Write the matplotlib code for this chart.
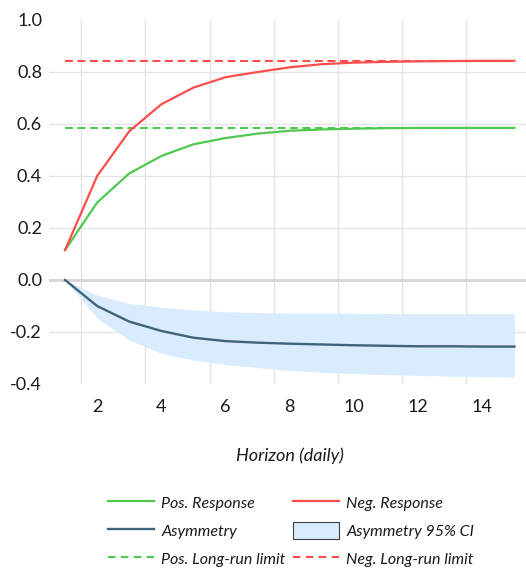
import numpy as np
import matplotlib
matplotlib.use("Agg")
import matplotlib.pyplot as plt
from matplotlib.lines import Line2D
from matplotlib.patches import Patch

# horizon 1..15 (daily)
horizon = np.arange(1, 16)
pos_resp = [0.115, 0.298, 0.410, 0.477, 0.522, 0.546, 0.563, 0.574, 0.579, 0.582,
            0.584, 0.585, 0.585, 0.585, 0.585]
neg_resp = [0.115, 0.400, 0.572, 0.676, 0.740, 0.780, 0.800, 0.818, 0.830, 0.836,
            0.839, 0.841, 0.842, 0.843, 0.843]
asym = [0.0, -0.100, -0.160, -0.196, -0.222, -0.235, -0.241, -0.245, -0.248, -0.251,
        -0.253, -0.255, -0.255, -0.256, -0.256]
ci_upper = [0.0, -0.058, -0.090, -0.105, -0.115, -0.122, -0.125, -0.127, -0.128, -0.128,
            -0.129, -0.129, -0.129, -0.129, -0.129]
ci_lower = [0.0, -0.147, -0.231, -0.282, -0.308, -0.325, -0.337, -0.348, -0.355, -0.360,
            -0.364, -0.367, -0.370, -0.372, -0.373]
pos_limit = 0.585
neg_limit = 0.842

yticks = [1.0, 0.8, 0.6, 0.4, 0.2, 0.0, -0.2, -0.4]
xticks = [2, 4, 6, 8, 10, 12, 14]

GREEN, RED, ASYM, CI = "#4fc94f", "#ff4d4d", "#3f6479", "#d9ecfd"
INK, GRID, ZERO = "#1a1a1a", "#e4e4e4", "#d6d6d6"

plt.rcParams["font.family"] = ["Lato", "DejaVu Sans"]

W, H = 526, 571
fig = plt.figure(figsize=(W / 100, H / 100), dpi=100)
ax = fig.add_axes([49 / W, (H - 384) / H, 481.5 / W, 364 / H])

ax.set_xlim(0.5, 15.5)
ax.set_ylim(-0.4, 1.0)

# gridlines (category boundaries for x, interior values for y)
for gx in np.array(xticks) - 0.5:
    ax.axvline(gx, color=GRID, lw=1.0, zorder=0)
for gy in yticks[1:-1]:
    ax.axhline(gy, color=ZERO if gy == 0 else GRID, lw=2.0 if gy == 0 else 1.0, zorder=0.5)

ax.fill_between(horizon, ci_lower, ci_upper, color=CI, lw=0, zorder=1)
ax.plot(horizon, asym, color=ASYM, lw=1.7, zorder=3)
ax.plot(horizon, pos_resp, color=GREEN, lw=1.6, zorder=3)
ax.plot(horizon, neg_resp, color=RED, lw=1.6, zorder=3)
ax.plot([horizon[0], horizon[-1]], [pos_limit, pos_limit], color=GREEN, lw=1.5,
        dashes=(3.8, 2.2), zorder=2)
ax.plot([horizon[0], horizon[-1]], [neg_limit, neg_limit], color=RED, lw=1.5,
        dashes=(3.8, 2.2), zorder=2)

for s in ax.spines.values():
    s.set_visible(False)
ax.set_xticks(xticks)
ax.set_xticklabels([str(v) for v in xticks])
ax.set_yticks(yticks)
ax.set_yticklabels([f"{v:.1f}" for v in yticks])
ax.tick_params(length=0, labelsize=13, labelcolor=INK)
ax.tick_params(axis="x", pad=11)
ax.tick_params(axis="y", pad=5)
ax.set_xlabel("Horizon (daily)", fontsize=13, style="italic", color=INK, labelpad=23)
ax.patch.set_alpha(0)

handles = [
    Line2D([], [], color=GREEN, lw=1.6),
    Line2D([], [], color=ASYM, lw=1.7),
    Line2D([], [], color=GREEN, lw=1.5, dashes=(3.6, 2.6)),
    Line2D([], [], color=RED, lw=1.6),
    Patch(facecolor=CI, edgecolor="#404040", lw=0.8),
    Line2D([], [], color=RED, lw=1.5, dashes=(3.6, 2.6)),
]
labels = ["Pos. Response", "Asymmetry", "Pos. Long-run limit",
          "Neg. Response", "Asymmetry 95% CI", "Neg. Long-run limit"]
leg = fig.legend(handles, labels, ncol=2, loc="upper left",
                 bbox_to_anchor=(94 / W, 1 - 480 / H), frameon=False,
                 prop={"style": "italic", "size": 11.5},
                 handlelength=2.85, handleheight=1.2, handletextpad=0.45,
                 columnspacing=0.5, labelspacing=0.72)
for t in leg.get_texts():
    t.set_color(INK)

fig.savefig("out.png", dpi=100)
